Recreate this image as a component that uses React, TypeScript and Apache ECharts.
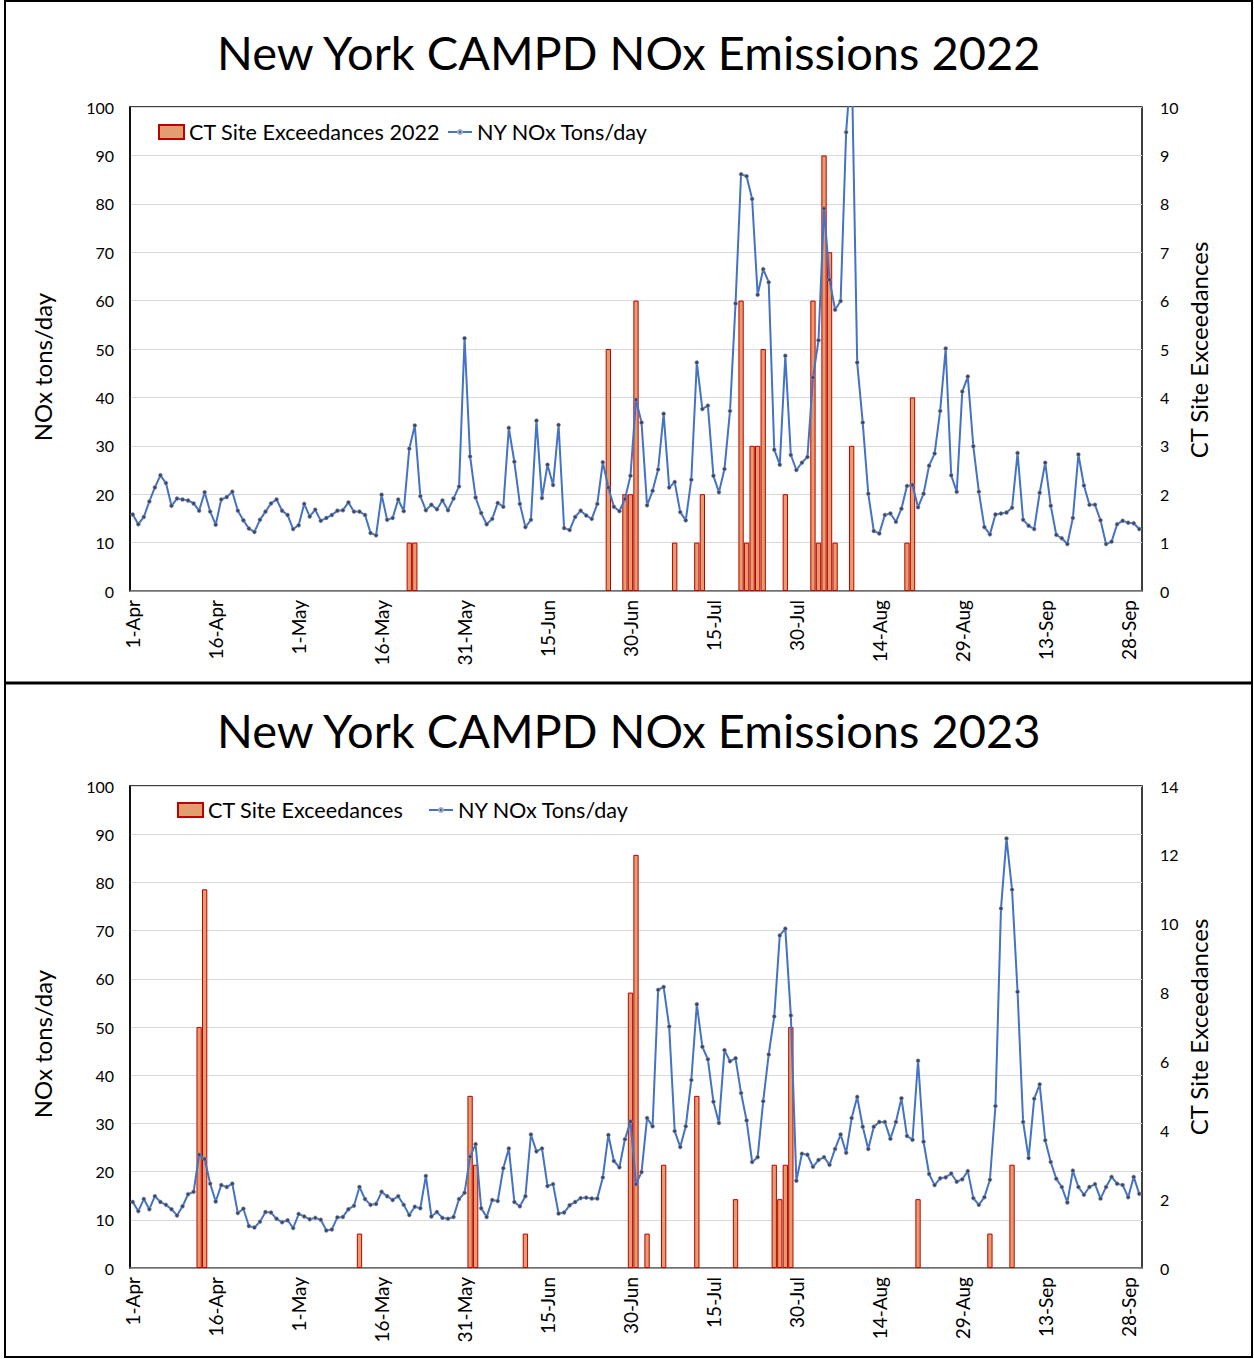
import React, { useEffect, useRef } from "react";
import * as echarts from "echarts";

const months: [string, number][] = [
  ["Apr", 30], ["May", 31], ["Jun", 30], ["Jul", 31], ["Aug", 31], ["Sep", 30],
];
const dates: string[] = [];
months.forEach(([m, n]) => { for (let d = 1; d <= n; d++) dates.push(`${d}-${m}`); });

const nox2022 = [
  15.8, 13.8, 15.3, 18.5, 21.4, 23.9, 22.3, 17.6, 19.1, 18.9,
  18.7, 18.1, 16.6, 20.4, 16.4, 13.7, 18.9, 19.4, 20.5, 16.6,
  14.6, 12.9, 12.2, 14.7, 16.4, 18.1, 18.9, 16.6, 15.7, 12.8,
  13.6, 18.0, 15.4, 16.8, 14.5, 15.1, 15.7, 16.6, 16.7, 18.3,
  16.4, 16.4, 15.7, 12.0, 11.5, 19.9, 14.7, 15.1, 18.9, 16.5,
  29.4, 34.2, 19.6, 16.7, 17.8, 16.9, 18.7, 16.7, 19.1, 21.6,
  52.2, 27.8, 19.3, 16.1, 13.8, 14.9, 18.2, 17.4, 33.7, 26.7,
  18.0, 13.2, 14.7, 35.2, 19.2, 26.1, 21.9, 34.3, 13.0, 12.6,
  15.3, 16.6, 15.6, 14.9, 18.0, 26.6, 21.4, 17.4, 16.5, 19.0,
  23.8, 39.5, 34.8, 17.7, 20.7, 25.1, 36.6, 21.4, 22.5, 16.3,
  14.6, 23.0, 47.2, 37.6, 38.3, 23.8, 20.4, 25.2, 37.2, 59.4,
  86.1, 85.7, 81.0, 61.2, 66.5, 63.8, 29.2, 26.1, 48.6, 28.1,
  25.0, 26.5, 27.7, 44.1, 51.8, 79.0, 64.3, 58.1, 59.9, 94.8,
  110, 47.2, 34.8, 20.1, 12.4, 11.9, 15.7, 16.0, 14.3, 17.0,
  21.7, 21.9, 17.3, 20.1, 25.9, 28.4, 37.2, 50.1, 23.9, 20.5,
  41.2, 44.3, 29.9, 20.5, 13.2, 11.7, 15.8, 16.0, 16.2, 17.2,
  28.5, 14.7, 13.5, 12.8, 20.3, 26.5, 17.6, 11.6, 10.9, 9.7,
  15.1, 28.2, 21.8, 17.8, 17.8, 14.6, 9.7, 10.2, 13.8, 14.5,
  14.1, 14.0, 12.8,
];

const nox2023 = [
  13.7, 11.8, 14.3, 12.2, 14.9, 13.7, 13.1, 12.2, 10.9, 12.8,
  15.3, 15.8, 23.5, 22.6, 17.5, 13.8, 17.2, 16.8, 17.5, 11.4,
  12.3, 8.7, 8.4, 9.6, 11.6, 11.5, 10.2, 9.5, 9.9, 8.3,
  11.2, 10.7, 10.1, 10.4, 10.0, 7.8, 8.0, 10.5, 10.6, 12.2,
  12.9, 16.8, 14.3, 13.1, 13.3, 15.8, 14.9, 14.1, 14.9, 13.1,
  11.0, 12.7, 12.4, 19.1, 10.7, 11.6, 10.4, 10.2, 10.6, 14.3,
  15.6, 23.1, 25.7, 12.4, 10.6, 14.1, 13.9, 20.7, 24.8, 13.7,
  12.8, 14.9, 27.7, 24.2, 24.8, 17.0, 17.4, 11.3, 11.5, 13.0,
  13.7, 14.5, 14.6, 14.4, 14.4, 18.8, 27.6, 22.2, 20.9, 26.7,
  30.4, 17.4, 19.9, 31.1, 29.4, 57.7, 58.3, 50.1, 28.4, 25.1,
  29.4, 39.0, 54.7, 45.9, 43.3, 34.5, 30.1, 45.2, 42.9, 43.5,
  36.3, 30.6, 22.0, 23.0, 34.6, 44.3, 52.2, 69.0, 70.4, 52.4,
  18.1, 23.7, 23.5, 21.0, 22.4, 23.0, 21.4, 24.7, 27.7, 23.9,
  31.1, 35.5, 29.3, 24.7, 29.3, 30.3, 30.3, 26.8, 30.3, 35.2,
  27.4, 26.6, 43.0, 26.2, 19.5, 17.2, 18.6, 18.8, 19.6, 17.9,
  18.4, 20.1, 14.5, 13.1, 14.7, 18.3, 33.6, 74.6, 89.1, 78.5,
  57.3, 30.3, 22.8, 35.1, 38.1, 26.5, 22.0, 18.5, 16.8, 13.6,
  20.2, 16.8, 15.2, 16.8, 17.4, 14.4, 16.8, 18.9, 17.5, 17.2,
  14.7, 18.9, 15.4,
];

const barDays2022 = [50, 51, 86, 89, 90, 91, 98, 102, 103, 110, 111, 112, 113, 114, 118, 123, 124, 125, 126, 127, 130, 140, 141];
const barVals2022 = [1, 1, 5, 2, 2, 6, 1, 1, 2, 6, 1, 3, 3, 5, 2, 6, 1, 9, 7, 1, 3, 1, 4];
const barDays2023 = [12, 13, 41, 61, 62, 71, 90, 91, 93, 96, 102, 109, 116, 117, 118, 119, 142, 155, 159];
const barVals2023 = [7, 11, 1, 5, 3, 1, 8, 12, 1, 3, 5, 2, 3, 2, 3, 7, 2, 1, 3];

const leftTicks = [0, 100, 10];
const rightTicks2022 = [0, 10, 1];
const rightTicks2023 = [0, 14, 2];

const FONT = "Lato";
const BAR_FILL = "#E29E6E";
const BAR_EDGE = "#C00000";
const LINE = "#4472C4";

function fullBars(days: number[], vals: number[]) {
  const arr: (number | null)[] = dates.map(() => null);
  days.forEach((d, i) => { arr[d] = vals[i]; });
  return arr;
}

export default function App() {
  const ref = useRef<HTMLDivElement>(null);
  useEffect(() => {
    document.body.style.margin = "0";
    const chart = echarts.init(ref.current!, undefined, { renderer: "svg" });
    const grids = [
      { left: 130, top: 107, width: 1012, height: 484 },
      { left: 130, top: 786, width: 1012, height: 482 },
    ];
    const xAxis = grids.map((_, gi) => ({
      type: "category",
      gridIndex: gi,
      data: dates,
      boundaryGap: true,
      axisTick: { show: false },
      axisLine: { lineStyle: { color: "#808080", width: 1.5 } },
      axisLabel: { rotate: 90, interval: 14, fontSize: 19, color: "#000", margin: 9, fontFamily: FONT },
    }));
    const leftAxis = (gi: number) => ({
      type: "value",
      gridIndex: gi,
      min: leftTicks[0], max: leftTicks[1], interval: leftTicks[2],
      axisLine: { show: true, lineStyle: { color: "#000", width: 1.5 } },
      axisTick: { show: false },
      splitLine: { lineStyle: { color: "#D9D9D9", width: 1 } },
      axisLabel: { fontSize: 16, color: "#000", margin: 16, fontFamily: FONT },
    });
    const rightAxis = (gi: number, t: number[]) => ({
      type: "value",
      gridIndex: gi,
      position: "right",
      min: t[0], max: t[1], interval: t[2],
      axisLine: { show: false },
      axisTick: { show: false },
      splitLine: { show: false },
      axisLabel: { fontSize: 16, color: "#000", margin: 18, fontFamily: FONT },
    });
    const lineSeries = (data: number[], xi: number, yi: number) => ({
      name: "NY NOx Tons/day",
      type: "line",
      xAxisIndex: xi,
      yAxisIndex: yi,
      data,
      showAllSymbol: true,
      symbol: "circle",
      symbolSize: 4,
      lineStyle: { color: LINE, width: 2 },
      itemStyle: { color: "#3A4866", borderColor: "#9AA8C4", borderWidth: 0.6 },
      z: 3,
    });
    const barSeries = (name: string, data: (number | null)[], xi: number, yi: number) => ({
      name,
      type: "bar",
      xAxisIndex: xi,
      yAxisIndex: yi,
      data,
      barWidth: "96%",
      itemStyle: { color: BAR_FILL, borderColor: BAR_EDGE, borderWidth: 1 },
      z: 2,
    });
    const legendText = { fontSize: 21.6, color: "#000", fontFamily: FONT };
    const barLegend = (name: string, left: number, top: number) => ({
      left, top, itemWidth: 25, itemHeight: 14, textStyle: legendText,
      data: [{ name, icon: "rect" }],
    });
    const lineLegend = (left: number, top: number) => ({
      left, top, itemWidth: 24, itemHeight: 5, textStyle: legendText,
      data: [{ name: "NY NOx Tons/day" }],
    });
    const axisName = (text: string, x: number, y: number) => ({
      type: "text",
      x, y,
      rotation: Math.PI / 2,
      style: {
        text, fontSize: 24, fontFamily: FONT, fill: "#000",
        align: "center", verticalAlign: "middle", textAlign: "center", textVerticalAlign: "middle",
      },
    });
    const titleStyle = { fontSize: 47, fontWeight: "normal", color: "#000", fontFamily: FONT };
    chart.setOption({
      animation: false,
      backgroundColor: "#fff",
      title: [
        { text: "New York CAMPD NOx Emissions 2022", left: 212, top: 23, textStyle: titleStyle },
        { text: "New York CAMPD NOx Emissions 2023", left: 212, top: 701, textStyle: titleStyle },
      ],
      legend: [
        barLegend("CT Site Exceedances 2022", 153, 116),
        lineLegend(442, 116),
        barLegend("CT Site Exceedances", 172, 794),
        lineLegend(423, 794),
      ],
      grid: grids.map((g) => ({ ...g, show: true, borderColor: "#000", borderWidth: 1.5, backgroundColor: "transparent" })),
      xAxis,
      yAxis: [leftAxis(0), rightAxis(0, rightTicks2022), leftAxis(1), rightAxis(1, rightTicks2023)],
      series: [
        barSeries("CT Site Exceedances 2022", fullBars(barDays2022, barVals2022), 0, 1),
        lineSeries(nox2022, 0, 0),
        barSeries("CT Site Exceedances", fullBars(barDays2023, barVals2023), 1, 3),
        lineSeries(nox2023, 1, 2),
      ],
      graphic: [
        { type: "rect", shape: { x: 5, y: 1, width: 1247, height: 1356 }, style: { fill: "none", stroke: "#000", lineWidth: 2 }, silent: true },
        { type: "line", shape: { x1: 5, y1: 683, x2: 1252, y2: 683 }, style: { stroke: "#000", lineWidth: 3 }, silent: true },
        axisName("NOx tons/day", 42, 367),
        axisName("CT Site Exceedances", 1198, 350),
        axisName("NOx tons/day", 42, 1044),
        axisName("CT Site Exceedances", 1198, 1027),
      ],
    });
    return () => chart.dispose();
  }, []);
  return <div ref={ref} style={{ width: 1254, height: 1359 }} />;
}
